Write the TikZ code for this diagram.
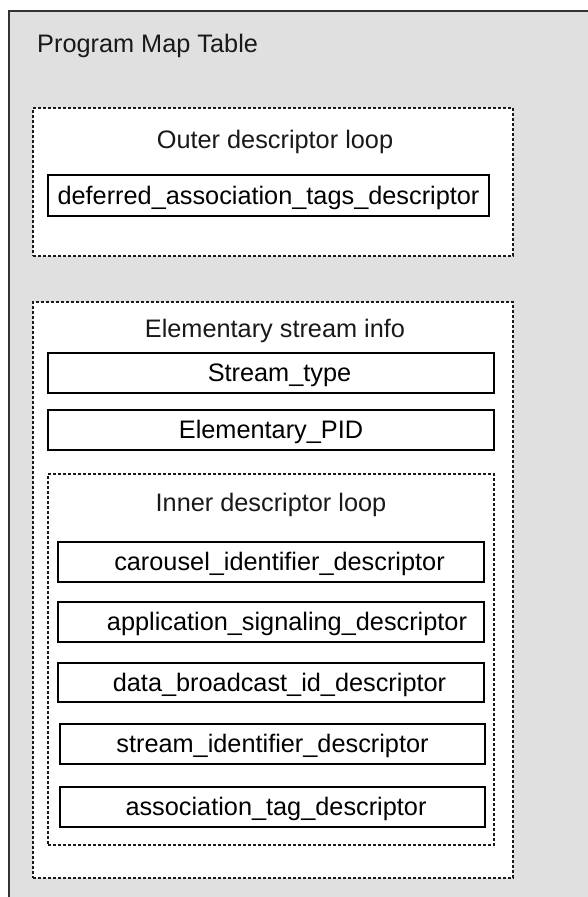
\documentclass[tikz,border=0pt]{standalone}
\usepackage{fontspec}
\setmainfont{Liberation Sans}
\definecolor{pmtgray}{RGB}{224,224,224}
\definecolor{dashline}{RGB}{25,25,25}
\begin{document}
\begin{tikzpicture}[x=1pt,y=-1pt,
  every node/.style={font=\fontsize{25.3}{30}\selectfont},
  loopbox/.style={draw=dashline, line width=1.3pt, dash pattern=on 3pt off 2pt, fill=white, inner sep=0pt},
  field/.style={draw=black, line width=1.5pt, fill=white, minimum height=40pt, text height=18pt, text depth=1pt, inner sep=0pt},
  caption/.style={anchor=base, inner sep=0pt, text=black!90}
]
\useasboundingbox (0,0) rectangle (587,897);
\fill[white] (0,0) rectangle (587,897);
% Program Map Table panel
\fill[pmtgray] (9,11) rectangle (600,910);
\draw[line width=1.5pt, black!80] (9,910) -- (9,11) -- (600,11);
\node[anchor=base west, inner sep=0pt, text=black!90] (pmt) at (37,52) {Program Map Table};

% Outer descriptor loop
\node[loopbox, minimum width=480pt, minimum height=148pt] (outer) at (273,182) {};
\node[caption] (outerlbl) at (275,148) {Outer descriptor loop};
\node[field, minimum width=441pt, minimum height=41pt] (deferred) at (268.5,195.5) {deferred\_association\_tags\_descriptor};

% Elementary stream info
\node[loopbox, minimum width=480pt, minimum height=576pt] (esi) at (273,590) {};
\node[caption] (esilbl) at (275,337) {Elementary stream info};
\node[field, minimum width=446pt] (stype) at (271,373) {\hspace*{17pt}Stream\_type};
\node[field, minimum width=446pt] (epid) at (271,430) {Elementary\_PID};

% Inner descriptor loop
\node[loopbox, minimum width=446pt, minimum height=371pt] (inner) at (271,659.5) {};
\node[caption] (innerlbl) at (271,511) {Inner descriptor loop};
\node[field, minimum width=426pt] (carousel) at (271,562) {\hspace*{17pt}carousel\_identifier\_descriptor};
\node[field, minimum width=426pt] (appsig) at (271,622) {\hspace*{32pt}application\_signaling\_descriptor};
\node[field, minimum width=426pt, minimum height=39pt] (databc) at (271,682.5) {\hspace*{17pt}data\_broadcast\_id\_descriptor};
\node[field, minimum width=425pt] (streamid) at (272.5,744) {stream\_identifier\_descriptor};
\node[field, minimum width=425pt] (assoc) at (272.5,807) {\hspace*{7pt}association\_tag\_descriptor};
\end{tikzpicture}
\end{document}
